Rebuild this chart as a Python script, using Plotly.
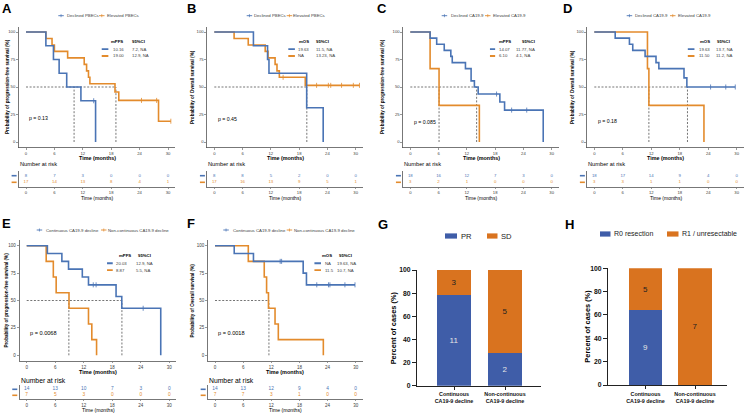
import plotly.graph_objects as go

W, H = 747, 414
FONT = "Liberation Sans, Arial, Helvetica, sans-serif"
BLUE = "#4A74B5"
ORANGE = "#E38B2C"
INK = "#404040"
AXC = "#555555"
BAR_BLUE = "#3F5DA8"
BAR_ORANGE = "#D9731F"

# ---------------------------------------------------------------- data
month_ticks = [0, 6, 12, 18, 24, 30]
surv_ticks = [0, 25, 50, 75, 100]
pct_ticks = [0, 20, 40, 60, 80, 100]

# Panel A - PFS by PBECs
A_labels = ["Declined PBECs", "Elevated PBECs"]
A_blue_t = [0, 4.2, 5.8, 7.0, 8.6, 11.6, 14.7]
A_blue_s = [100, 87.5, 75.0, 62.5, 50.0, 37.5, 0.0]
A_blue_end = 14.7
A_blue_cens = [14.3]
A_orange_t = [0, 4.2, 5.5, 6.0, 8.8, 12.3, 12.8, 13.2, 13.5, 18.8, 19.6, 28.0]
A_orange_s = [100, 94.1, 88.2, 82.4, 76.5, 70.6, 64.7, 58.8, 52.9, 45.4, 37.8, 18.9]
A_orange_end = 30.6
A_orange_cens = [24.4, 27.6, 30.6]
A_median = [10.16, 19.00]
A_median_txt = ["10.16", "19.00"]
A_ci = ["7.2, NA", "12.9, NA"]
A_p = "p = 0.13"
A_risk_blue = [8, 7, 3, 0, 0, 0]
A_risk_orange = [17, 14, 13, 8, 4, 1]

# Panel B - OS by PBECs
B_labels = ["Declined PBECs", "Elevated PBECs"]
B_blue_t = [0, 8.3, 11.3, 11.6, 19.6, 23.1]
B_blue_s = [100, 87.5, 75.0, 62.5, 31.2, 0.0]
B_blue_end = 23.1
B_blue_cens = []
B_orange_t = [0, 4.2, 7.2, 10.8, 11.4, 12.9, 13.3, 13.8, 19.3]
B_orange_s = [100, 94.1, 88.2, 82.4, 76.5, 70.6, 64.7, 58.8, 51.5]
B_orange_end = 30.8
B_orange_cens = [14.6, 21.7, 24.2, 24.7, 27.0, 29.5, 30.8]
B_median = [19.63, None]
B_median_txt = ["19.63", "NA"]
B_ci = ["11.5, NA", "13.23, NA"]
B_p = "p = 0.45"
B_risk_blue = [8, 8, 5, 2, 0, 0]
B_risk_orange = [17, 16, 13, 9, 5, 1]

# Panel C - PFS by CA19-9
C_labels = ["Declined CA19-9", "Elevated CA19-9"]
C_blue_t = [0, 4.2, 5.6, 7.2, 8.6, 8.9, 11.7, 12.9, 13.6, 14.4, 19.0, 20.0, 28.2]
C_blue_s = [100, 94.4, 88.9, 83.3, 77.8, 72.2, 66.7, 55.6, 50.0, 43.6, 36.3, 29.0, 0.0]
C_blue_end = 28.2
C_blue_cens = [18.3, 21.5, 24.7]
C_orange_t = [0, 4.2, 6.1, 14.65]
C_orange_s = [100, 66.7, 33.3, 0.0]
C_orange_end = 14.65
C_orange_cens = []
C_median = [14.07, 6.10]
C_median_txt = ["14.07", "6.10"]
C_ci = ["11.77, NA", "4.1, NA"]
C_p = "p = 0.085"
C_risk_blue = [18, 16, 12, 7, 3, 0]
C_risk_orange = [3, 2, 1, 0, 0, 0]

# Panel D - OS by CA19-9
D_labels = ["Declined CA19-9", "Elevated CA19-9"]
D_blue_t = [0, 4.4, 7.4, 8.1, 10.7, 13.0, 13.6, 18.9, 19.5]
D_blue_s = [100, 94.4, 88.9, 83.3, 77.8, 72.2, 66.7, 58.3, 50.0]
D_blue_end = 29.7
D_blue_cens = [24.5, 27.7, 29.7]
D_orange_t = [0, 11.2, 11.5, 23.1]
D_orange_s = [100, 66.7, 33.3, 0.0]
D_orange_end = 23.1
D_orange_cens = []
D_median = [19.63, 11.50]
D_median_txt = ["19.63", "11.50"]
D_ci = ["13.7, NA", "11.2, NA"]
D_p = "p = 0.18"
D_risk_blue = [18, 17, 14, 9, 4, 0]
D_risk_orange = [3, 3, 1, 1, 0, 0]

# Panel E - PFS by CA19-9 kinetics
E_labels = ["Continuous CA19-9 decline", "Non-continuous CA19-9 decline"]
E_blue_t = [0, 4.35, 7.4, 8.8, 11.7, 13.0, 18.8, 20.0, 28.2]
E_blue_s = [100, 92.9, 85.7, 78.6, 71.4, 64.3, 53.6, 42.9, 0.0]
E_blue_end = 28.2
E_blue_cens = [14.0, 14.6, 24.5]
E_orange_t = [0, 4.1, 5.6, 6.2, 8.9, 13.0, 13.7, 14.7]
E_orange_s = [100, 85.7, 71.4, 57.1, 42.9, 28.6, 14.3, 0.0]
E_orange_end = 14.7
E_orange_cens = []
E_median = [20.03, 8.87]
E_median_txt = ["20.03", "8.87"]
E_ci = ["12.9, NA", "5.5, NA"]
E_p = "p = 0.0068"
E_risk_blue = [14, 13, 10, 7, 3, 0]
E_risk_orange = [7, 5, 3, 0, 0, 0]

# Panel F - OS by CA19-9 kinetics
F_labels = ["Continuous CA19-9 decline", "Non-continuous CA19-9 decline"]
F_blue_t = [0, 4.1, 8.2, 18.8, 19.5]
F_blue_s = [100, 92.9, 85.7, 75.0, 64.3]
F_blue_end = 29.85
F_blue_cens = [13.9, 14.2, 21.7, 24.2, 24.5, 27.7, 29.85]
F_orange_t = [0, 7.1, 10.5, 11.0, 11.4, 12.8, 13.5, 23.1]
F_orange_s = [100, 85.7, 71.4, 57.1, 42.9, 28.6, 14.3, 0.0]
F_orange_end = 23.1
F_orange_cens = []
F_median = [None, 11.5]
F_median_txt = ["NA", "11.5"]
F_ci = ["19.63, NA", "10.7, NA"]
F_p = "p = 0.0018"
F_risk_blue = [14, 13, 12, 9, 4, 0]
F_risk_orange = [7, 7, 3, 1, 0, 0]

# Panels G / H - stacked percentage bars
bar_categories = ["Continuous<br>CA19-9 decline", "Non-continuous<br>CA19-9 decline"]
G_names = ["PR", "SD"]
G_PR = [11, 2]
G_SD = [3, 5]
G_p = "p=0.055"
H_names = ["R0 resection", "R1 / unresectable"]
H_R0 = [9, 0]
H_R1 = [5, 7]
H_p = "p=0.0071"

PFS_LAB = "Probability of progression-free survival (%)"
OS_LAB = "Probability of Overall survival (%)"

KM = {
    "A": dict(labels=A_labels, stat="mPFS", ylabel=PFS_LAB,
              blue=(A_blue_t, A_blue_s, A_blue_end, A_blue_cens),
              orange=(A_orange_t, A_orange_s, A_orange_end, A_orange_cens),
              median=A_median, median_txt=A_median_txt, ci=A_ci, p=A_p,
              risk_blue=A_risk_blue, risk_orange=A_risk_orange),
    "B": dict(labels=B_labels, stat="mOS", ylabel=OS_LAB,
              blue=(B_blue_t, B_blue_s, B_blue_end, B_blue_cens),
              orange=(B_orange_t, B_orange_s, B_orange_end, B_orange_cens),
              median=B_median, median_txt=B_median_txt, ci=B_ci, p=B_p,
              risk_blue=B_risk_blue, risk_orange=B_risk_orange),
    "C": dict(labels=C_labels, stat="mPFS", ylabel=PFS_LAB,
              blue=(C_blue_t, C_blue_s, C_blue_end, C_blue_cens),
              orange=(C_orange_t, C_orange_s, C_orange_end, C_orange_cens),
              median=C_median, median_txt=C_median_txt, ci=C_ci, p=C_p,
              risk_blue=C_risk_blue, risk_orange=C_risk_orange),
    "D": dict(labels=D_labels, stat="mOS", ylabel=OS_LAB,
              blue=(D_blue_t, D_blue_s, D_blue_end, D_blue_cens),
              orange=(D_orange_t, D_orange_s, D_orange_end, D_orange_cens),
              median=D_median, median_txt=D_median_txt, ci=D_ci, p=D_p,
              risk_blue=D_risk_blue, risk_orange=D_risk_orange),
    "E": dict(labels=E_labels, stat="mPFS", ylabel=PFS_LAB,
              blue=(E_blue_t, E_blue_s, E_blue_end, E_blue_cens),
              orange=(E_orange_t, E_orange_s, E_orange_end, E_orange_cens),
              median=E_median, median_txt=E_median_txt, ci=E_ci, p=E_p,
              risk_blue=E_risk_blue, risk_orange=E_risk_orange),
    "F": dict(labels=F_labels, stat="mOS", ylabel=OS_LAB,
              blue=(F_blue_t, F_blue_s, F_blue_end, F_blue_cens),
              orange=(F_orange_t, F_orange_s, F_orange_end, F_orange_cens),
              median=F_median, median_txt=F_median_txt, ci=F_ci, p=F_p,
              risk_blue=F_risk_blue, risk_orange=F_risk_orange),
}

# ---------------------------------------------------------------- geometry (pixels)
TOP = dict(y100=32, y0=142, leg_y=15.7, lab_y=0, xt_y=158.2, nar_y=164.3,
           r1=175.7, r2=182.3, r_axis=187, r_top=171, rxt_y=197.8,
           tab_y=(91, 84.5, 78.2), fs=4.2, rfs=4.3, lfs=4.3, yfs=4.6, xfs=5.4, nfs=5.7, pfs=5.2)
BOT = dict(y100=245.7, y0=355.3, leg_y=230, lab_y=215, xt_y=372.2, nar_y=380.5,
           r1=389.3, r2=395.3, r_axis=399.3, r_top=385, rxt_y=410.2,
           tab_y=(91.5, 84, 77.8), fs=4.5, rfs=4.8, lfs=4.3, yfs=4.6, xfs=5.5, nfs=6.8, pfs=5.6)

GEO = {
    "A": dict(TOP, n=1, m0=26, m30=168, leg=(58.3, 65.7, 99, 106.3), lab_x=1, ylab_x=7,
              tab=dict(lx=(16.0, 17.4), vx=18.1, cx=22.2, hs=17.8, hc=22.2), p_y=21.8),
    "B": dict(TOP, n=3, m0=214.3, m30=355.7, leg=(246.7, 253.3, 286.7, 292.3), lab_x=186, ylab_x=192,
              tab=dict(lx=(15.7, 17.1), vx=17.6, cx=21.4, hs=17.8, hc=21.4), p_y=21),
    "C": dict(TOP, n=5, m0=410.3, m30=551.7, leg=(441.7, 450, 485, 492.3), lab_x=376, ylab_x=382,
              tab=dict(lx=(16.9, 18.0), vx=18.6, cx=22.2, hs=18.6, hc=23.4), p_y=18),
    "D": dict(TOP, n=7, m0=594.3, m30=736.7, leg=(626.7, 634, 670, 677.3), lab_x=562, ylab_x=572,
              tab=dict(lx=(19.7, 21.1), vx=21.9, cx=25.5, hs=22.1, hc=25.6), p_y=19),
    "E": dict(BOT, n=9, m0=26.7, m30=169.3, leg=(36.7, 45, 101, 106.7), lab_x=1, ylab_x=6,
              tab=dict(lx=(16.9, 18.1), vx=18.6, cx=22.8, hs=19.3, hc=23.1), p_y=20.3),
    "F": dict(BOT, n=11, m0=215, m30=355.7, leg=(223.3, 231.7, 286.7, 293.3), lab_x=186, ylab_x=192,
              tab=dict(lx=(21.2, 22.6), vx=23.3, cx=25.9, hs=22.6, hc=26.3), p_y=20.3),
}

BAR_GEO = {
    "G": dict(n=13, ax_l=417, ax_r=541, c0=454, c1=505, y0=385.7, y100=270, lab=(377, 216),
              ylab_x=393.5, legend=(445, 460, 487, 500), leg_y=236, bk=(0, 1.13), bk_y=(102.6, 106.9),
              lfs=7.6),
    "H": dict(n=14, ax_l=608, ax_r=727, c0=645.5, c1=695, y0=385, y100=268.3, lab=(564, 216),
              ylab_x=588, legend=(600, 613, 667, 681), leg_y=234, bk=(0, 1.13), bk_y=(102.0, 106.3),
              lfs=7.0),
}


def xd(p):
    return p / W


def yd(p):
    return 1 - p / H


def axkey(kind, n):
    return f"{kind}axis" + ("" if n == 1 else str(n))


def tref(kind, n):
    return kind + ("" if n == 1 else str(n))


def surv_at(ts, ss, t):
    v = ss[0]
    for ti, si in zip(ts, ss):
        if ti <= t:
            v = si
    return v


fig = go.Figure()
layout = {}
ann = []
shp = []


def base_axis(**kw):
    d = dict(showgrid=False, zeroline=False, automargin=False, fixedrange=True, showline=True,
             linecolor=AXC, linewidth=0.8, ticks="outside", ticklen=2, tickwidth=0.6,
             tickcolor=AXC)
    d.update(kw)
    return d


def text_ann(text, x, y, size, color="black", xanchor="center", yanchor="middle",
             xref="paper", yref="paper", **kw):
    a = dict(text=text, x=x, y=y, xref=xref, yref=yref, xanchor=xanchor, yanchor=yanchor,
             showarrow=False, borderpad=0, font=dict(size=size, color=color, family=FONT))
    a.update(kw)
    ann.append(a)


def add_km(key, d, g):
    n = g["n"]
    r = n + 1
    xa, ya = tref("x", n), tref("y", n)
    xr_, yr_ = tref("x", r), tref("y", r)
    ppm = (g["m30"] - g["m0"]) / 30.0
    ppy = (g["y0"] - g["y100"]) / 100.0
    ax_l = g["m0"] - 1.5 * ppm
    ax_r = g["m0"] + 31.5 * ppm
    y_bot = g["y0"] + 5 * ppy
    y_top = g["y100"] - 5 * ppy
    tf = dict(size=g["fs"], color=INK, family=FONT)
    layout[axkey("x", n)] = base_axis(domain=[xd(ax_l), xd(ax_r)], range=[-1.5, 31.5],
                                      anchor=ya, tickvals=month_ticks, tickfont=tf, ticklen=1.6)
    layout[axkey("y", n)] = base_axis(domain=[yd(y_bot), yd(y_top)], range=[-5, 105],
                                      anchor=xa, tickvals=surv_ticks, tickfont=tf)
    # median guide lines
    meds = [m for m in d["median"] if m is not None]
    dl = dict(color="#3a3a3a", width=0.7, dash="2px,1.6px")
    if meds:
        fig.add_trace(go.Scatter(x=[0, max(meds)], y=[50, 50], mode="lines", line=dl,
                                 xaxis=xa, yaxis=ya, showlegend=False, hoverinfo="skip"))
        for m in meds:
            fig.add_trace(go.Scatter(x=[m, m], y=[0, 50], mode="lines", line=dl,
                                     xaxis=xa, yaxis=ya, showlegend=False, hoverinfo="skip"))
    # survival curves
    for (t, s, end, cens), col in ((d["orange"], ORANGE), (d["blue"], BLUE)):
        fig.add_trace(go.Scatter(x=list(t) + [end], y=list(s) + [s[-1]], mode="lines",
                                 line=dict(color=col, width=1.6, shape="hv"),
                                 xaxis=xa, yaxis=ya, showlegend=False, hoverinfo="skip",
                                 cliponaxis=False))
        if cens:
            fig.add_trace(go.Scatter(x=cens, y=[surv_at(t, s, c) for c in cens], mode="markers",
                                     marker=dict(symbol="line-ns-open", size=3.6, color=col,
                                                 line=dict(color=col, width=0.8)),
                                     xaxis=xa, yaxis=ya, showlegend=False, hoverinfo="skip",
                                     cliponaxis=False))
    # risk table
    rppy = g["r2"] - g["r1"]
    ryrange = [-(g["r_axis"] - g["r2"]) / rppy, 1 + (g["r1"] - g["r_top"]) / rppy]
    layout[axkey("x", r)] = base_axis(domain=[xd(ax_l), xd(ax_r)], range=[-1.5, 31.5],
                                      anchor=yr_, tickvals=month_ticks, tickfont=tf, ticklen=1.2)
    layout[axkey("y", r)] = base_axis(domain=[yd(g["r_axis"]), yd(g["r_top"])], range=ryrange,
                                      anchor=xr_, ticks="", showticklabels=False)
    for vals, yv, col in ((d["risk_blue"], 1, BLUE), (d["risk_orange"], 0, ORANGE)):
        fig.add_trace(go.Scatter(x=month_ticks, y=[yv] * len(vals), text=[str(v) for v in vals],
                                 mode="text", textfont=dict(size=g["rfs"], color=col, family=FONT),
                                 xaxis=xr_, yaxis=yr_, showlegend=False, hoverinfo="skip",
                                 cliponaxis=False))
    for ypx, col in ((g["r1"], BLUE), (g["r2"], ORANGE)):
        shp.append(dict(type="rect", xref="paper", yref="paper", x0=xd(ax_l - 7.3), x1=xd(ax_l - 2.3),
                        y0=yd(ypx + 0.8), y1=yd(ypx - 0.8), fillcolor=col, line=dict(width=0)))
    # top legend
    lg = g["leg"]
    for ml, tl, col, lab in ((lg[0], lg[1], BLUE, d["labels"][0]), (lg[2], lg[3], ORANGE, d["labels"][1])):
        shp.append(dict(type="line", xref="paper", yref="paper", x0=xd(ml), x1=xd(ml + 5.5),
                        y0=yd(g["leg_y"]), y1=yd(g["leg_y"]), line=dict(color=col, width=0.9)))
        shp.append(dict(type="line", xref="paper", yref="paper", x0=xd(ml + 2.75), x1=xd(ml + 2.75),
                        y0=yd(g["leg_y"] - 1.5), y1=yd(g["leg_y"] + 1.5), line=dict(color=col, width=0.7)))
        text_ann(lab, xd(tl), yd(g["leg_y"]), g["lfs"], color=INK, xanchor="left")
    # panel letter and titles
    text_ann(f"<b>{key}</b>", xd(g["lab_x"]), yd(g["lab_y"]), 13, xanchor="left", yanchor="top")
    text_ann(f"<b>{d['ylabel']}</b>", xd(g["ylab_x"]), yd((y_top + y_bot) / 2), g["yfs"], textangle=-90)
    text_ann("<b>Time (months)</b>", xd((ax_l + ax_r) / 2), yd(g["xt_y"]), g["xfs"])
    text_ann("Number at risk", xd(ax_l), yd(g["nar_y"]), g["nfs"], xanchor="left")
    text_ann("Time (months)", xd((ax_l + ax_r) / 2), yd(g["rxt_y"]), g["xfs"] - 0.4)
    # p-value
    text_ann(d["p"], 0.5, g["p_y"], g["pfs"], xanchor="left", xref=xa, yref=ya)
    # median table
    tb = g["tab"]
    ty = g["tab_y"]
    text_ann(f"<b>{d['stat']}</b>", tb["hs"], ty[0], g["lfs"], xanchor="left", xref=xa, yref=ya)
    text_ann("<b>95%CI</b>", tb["hc"], ty[0], g["lfs"], xanchor="left", xref=xa, yref=ya)
    for i, col in enumerate((BLUE, ORANGE)):
        shp.append(dict(type="line", xref=xa, yref=ya, x0=tb["lx"][0], x1=tb["lx"][1],
                        y0=ty[i + 1], y1=ty[i + 1], line=dict(color=col, width=1.8)))
        text_ann(d["median_txt"][i], tb["vx"], ty[i + 1], g["lfs"], color=INK, xanchor="left", xref=xa, yref=ya)
        text_ann(d["ci"][i], tb["cx"], ty[i + 1], g["lfs"], color=INK, xanchor="left", xref=xa, yref=ya)


for k in "ABCDEF":
    add_km(k, KM[k], GEO[k])


def add_bar(key, g, names, first, second, pval):
    n = g["n"]
    xa, ya = tref("x", n), tref("y", n)
    ppu = g["c1"] - g["c0"]
    xr = [(g["ax_l"] - g["c0"]) / ppu, (g["ax_r"] - g["c0"]) / ppu]
    layout[axkey("x", n)] = base_axis(domain=[xd(g["ax_l"]), xd(g["ax_r"])], range=xr, anchor=ya,
                                      tickvals=[0, 1], ticktext=bar_categories, linecolor="#222",
                                      linewidth=1.1, ticklen=3, tickwidth=1, tickcolor="#222",
                                      tickfont=dict(size=5.4, color="#111", family=FONT, weight="bold"))
    layout[axkey("y", n)] = base_axis(domain=[yd(g["y0"]), yd(g["y100"])], range=[0, 100], anchor=xa,
                                      tickvals=pct_ticks, linecolor="#222", linewidth=1.1, ticklen=4,
                                      tickwidth=1, tickcolor="#222",
                                      tickfont=dict(size=6.8, color="#111", family=FONT, weight="bold"))
    totals = [a + b for a, b in zip(first, second)]
    for vals, col, tcol in ((first, BAR_BLUE, "#E6E6E6"), (second, BAR_ORANGE, "#222222")):
        fig.add_trace(go.Bar(x=[0, 1], y=[100.0 * v / t for v, t in zip(vals, totals)], width=0.667,
                             marker=dict(color=col, line=dict(width=0)),
                             text=[str(v) if v else "" for v in vals], textposition="inside",
                             insidetextanchor="middle", textangle=0,
                             textfont=dict(size=8, color=tcol, family=FONT),
                             xaxis=xa, yaxis=ya, showlegend=False, hoverinfo="skip"))
    b0, b1 = g["bk"]
    lo, hi = g["bk_y"]
    fig.add_trace(go.Scatter(x=[b0, b0, b1, b1], y=[lo, hi, hi, lo], mode="lines",
                             line=dict(color="#222", width=1), xaxis=xa, yaxis=ya,
                             showlegend=False, hoverinfo="skip", cliponaxis=False))
    text_ann(pval, (b0 + b1) / 2, hi, 7.8, color="#222", yanchor="bottom", xref=xa, yref=ya, yshift=1.5)
    lg = g["legend"]
    for bx, tx, col, nm in ((lg[0], lg[1], BAR_BLUE, names[0]), (lg[2], lg[3], BAR_ORANGE, names[1])):
        shp.append(dict(type="rect", xref="paper", yref="paper", x0=xd(bx), x1=xd(min(bx + 12, tx - 2.5)),
                        y0=yd(g["leg_y"] + 2.6), y1=yd(g["leg_y"] - 2.6), fillcolor=col, line=dict(width=0)))
        text_ann(nm, xd(tx), yd(g["leg_y"]), g["lfs"], color="#222", xanchor="left")
    text_ann(f"<b>{key}</b>", xd(g["lab"][0]), yd(g["lab"][1]), 13, xanchor="left", yanchor="top")
    text_ann("<b>Percent of cases (%)</b>", xd(g["ylab_x"]), yd((g["y0"] + g["y100"]) / 2), 7.4,
             textangle=-90)


add_bar("G", BAR_GEO["G"], G_names, G_PR, G_SD, G_p)
add_bar("H", BAR_GEO["H"], H_names, H_R0, H_R1, H_p)

fig.update_layout(
    template="none",
    width=W, height=H,
    margin=dict(l=0, r=0, t=0, b=0),
    paper_bgcolor="white", plot_bgcolor="white",
    font=dict(family=FONT, color=INK),
    barmode="stack",
    showlegend=False,
    annotations=ann,
    shapes=shp,
    **layout,
)

fig.write_html("out.html", include_plotlyjs=True,
               config={"displayModeBar": False, "staticPlot": True},
               post_script="document.body.style.margin='0';document.body.style.overflow='hidden';")
